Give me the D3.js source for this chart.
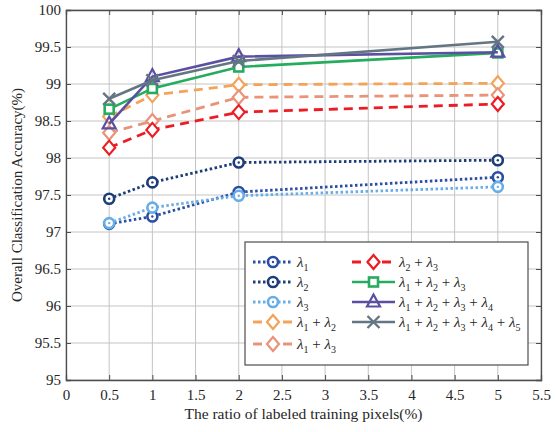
<!DOCTYPE html>
<html>
<head>
<meta charset="utf-8">
<script src="https://cdn.jsdelivr.net/npm/d3@7"></script>
<style>
  body { margin: 0; background: #fff; }
  text { font-family: "Liberation Serif", "Times New Roman", serif; fill: #262626; }
</style>
</head>
<body>
<div id="chart"></div>
<script>
const ratios = [0.5, 1, 2, 5];
const seriesNames = [[1], [2], [3], [1, 2], [1, 3], [2, 3], [1, 2, 3], [1, 2, 3, 4], [1, 2, 3, 4, 5]];
const lambda1 = [97.11, 97.21, 97.54, 97.74];
const lambda2 = [97.45, 97.67, 97.94, 97.97];
const lambda3 = [97.12, 97.33, 97.49, 97.61];
const lambda12 = [98.56, 98.85, 98.99, 99.01];
const lambda13 = [98.34, 98.50, 98.82, 98.85];
const lambda23 = [98.14, 98.38, 98.62, 98.73];
const lambda123 = [98.66, 98.94, 99.23, 99.42];
const lambda1234 = [98.46, 99.10, 99.37, 99.43];
const lambda12345 = [98.80, 99.05, 99.31, 99.57];
const xTicks = [0, 0.5, 1, 1.5, 2, 2.5, 3, 3.5, 4, 4.5, 5, 5.5];
const yTicks = [95, 95.5, 96, 96.5, 97, 97.5, 98, 98.5, 99, 99.5, 100];

const series = [
  {vals: lambda1, color: '#2a4ea2', dash: '2.5,2.5', marker: 'circle'},
  {vals: lambda2, color: '#1c3d78', dash: '2.5,2.5', marker: 'circle'},
  {vals: lambda3, color: '#68ade6', dash: '2.5,2.5', marker: 'circle'},
  {vals: lambda12, color: '#f3a35a', dash: '9,6', marker: 'diamond'},
  {vals: lambda13, color: '#e8937a', dash: '9,6', marker: 'diamond'},
  {vals: lambda23, color: '#ed1c24', dash: '9,6', marker: 'diamond'},
  {vals: lambda123, color: '#25ac5d', dash: null, marker: 'square'},
  {vals: lambda1234, color: '#5a4fa1', dash: null, marker: 'triangle'},
  {vals: lambda12345, color: '#647584', dash: null, marker: 'cross'}
];

const W = 556, H = 432;
const pLeft = 66, pRight = 541, pTop = 10, pBottom = 380;
const svg = d3.select('#chart').append('svg').attr('width', W).attr('height', H);
const x = d3.scaleLinear().domain([0, 5.5]).range([pLeft, pRight]);
const y = d3.scaleLinear().domain([95, 100]).range([pBottom, pTop]);

// grid
svg.append('g').selectAll('line').data(xTicks).enter().append('line')
  .attr('x1', d => x(d)).attr('x2', d => x(d)).attr('y1', pTop).attr('y2', pBottom)
  .attr('stroke', '#c4c4c4').attr('stroke-width', 1);
svg.append('g').selectAll('line').data(yTicks).enter().append('line')
  .attr('y1', d => y(d)).attr('y2', d => y(d)).attr('x1', pLeft).attr('x2', pRight)
  .attr('stroke', '#c4c4c4').attr('stroke-width', 1);

// axes
const xAxis = svg.append('g').attr('transform', `translate(0,${pBottom})`)
  .call(d3.axisBottom(x).tickValues(xTicks).tickSize(-5).tickPadding(9).tickFormat(d3.format('')));
const xAxisTop = svg.append('g').attr('transform', `translate(0,${pTop})`)
  .call(d3.axisTop(x).tickValues(xTicks).tickSize(-5).tickFormat(''));
const yAxis = svg.append('g').attr('transform', `translate(${pLeft},0)`)
  .call(d3.axisLeft(y).tickValues(yTicks).tickSize(-5).tickPadding(5).tickFormat(d3.format('')));
const yAxisRight = svg.append('g').attr('transform', `translate(${pRight},0)`)
  .call(d3.axisRight(y).tickValues(yTicks).tickSize(-5).tickFormat(''));
[xAxis, xAxisTop, yAxis, yAxisRight].forEach(a => {
  a.select('.domain').attr('stroke', '#4d4d4d').attr('stroke-width', 1.3);
  a.selectAll('.tick line').attr('stroke', '#4d4d4d');
  a.selectAll('text').style('font-family', '"Liberation Serif", serif').style('font-size', '15px').attr('fill', '#262626');
});

svg.append('text').attr('x', (pLeft + pRight) / 2).attr('y', 419).attr('text-anchor', 'middle')
  .style('font-size', '15.5px').text('The ratio of labeled training pixels(%)');
svg.append('text').attr('transform', `translate(22,${(pTop + pBottom) / 2}) rotate(-90)`)
  .attr('text-anchor', 'middle').style('font-size', '15px').text('Overall Classification Accuracy(%)');

function drawMarker(g, type, cx, cy, color) {
  if (type === 'circle') {
    g.append('circle').attr('cx', cx).attr('cy', cy).attr('r', 5)
      .attr('fill', '#fff').attr('stroke', color).attr('stroke-width', 2.6);
    g.append('circle').attr('cx', cx).attr('cy', cy).attr('r', 1.2).attr('fill', color);
  } else if (type === 'diamond') {
    g.append('path').attr('d', `M${cx},${cy - 7}L${cx + 6},${cy}L${cx},${cy + 7}L${cx - 6},${cy}Z`)
      .attr('fill', '#fff').attr('stroke', color).attr('stroke-width', 2.2);
  } else if (type === 'square') {
    g.append('rect').attr('x', cx - 4.5).attr('y', cy - 4.5).attr('width', 9).attr('height', 9)
      .attr('fill', '#fff').attr('stroke', color).attr('stroke-width', 2.6);
  } else if (type === 'triangle') {
    g.append('path').attr('d', `M${cx},${cy - 7.5}L${cx + 6.5},${cy + 4.5}L${cx - 6.5},${cy + 4.5}Z`)
      .attr('fill', 'none').attr('stroke', color).attr('stroke-width', 2.2);
  } else {
    g.append('path').attr('d', `M${cx - 6},${cy - 6}L${cx + 6},${cy + 6}M${cx - 6},${cy + 6}L${cx + 6},${cy - 6}`)
      .attr('stroke', color).attr('stroke-width', 2.4);
  }
}

const line = d3.line().x((d, i) => x(ratios[i])).y(d => y(d));
series.forEach(s => {
  const g = svg.append('g');
  g.append('path').datum(s.vals).attr('d', line).attr('fill', 'none')
    .attr('stroke', s.color).attr('stroke-width', s.dash ? 2.8 : 2.6)
    .attr('stroke-dasharray', s.dash);
  s.vals.forEach((v, i) => drawMarker(g, s.marker, x(ratios[i]), y(v), s.color));
});

// legend
const leg = svg.append('g');
leg.append('rect').attr('x', 245).attr('y', 242).attr('width', 283).attr('height', 123)
  .attr('fill', '#fff').attr('stroke', '#4d4d4d').attr('stroke-width', 1.2);
const rowY = [262, 282, 302, 322, 344];
series.forEach((s, i) => {
  const col = i < 5 ? 0 : 1;
  const row = i < 5 ? i : i - 5;
  const x0 = col === 0 ? 253 : 352, x1 = col === 0 ? 293 : 395;
  const yy = rowY[row];
  const g = leg.append('g');
  g.append('line').attr('x1', x0).attr('x2', x1).attr('y1', yy).attr('y2', yy)
    .attr('stroke', s.color).attr('stroke-width', s.dash ? 2.8 : 2.6)
    .attr('stroke-dasharray', s.dash);
  drawMarker(g, s.marker, (x0 + x1) / 2, yy, s.color);
  const t = g.append('text').attr('x', x1 + 4).attr('y', yy + 5).style('font-size', '15px');
  seriesNames[i].forEach((n, j) => {
    if (j > 0) t.append('tspan').attr('dy', -4).style('font-style', 'normal').text(' + ');
    t.append('tspan').style('font-style', 'italic').text('λ');
    t.append('tspan').attr('dy', 4).style('font-size', '10px').text(n);
  });
});
</script>
</body>
</html>
